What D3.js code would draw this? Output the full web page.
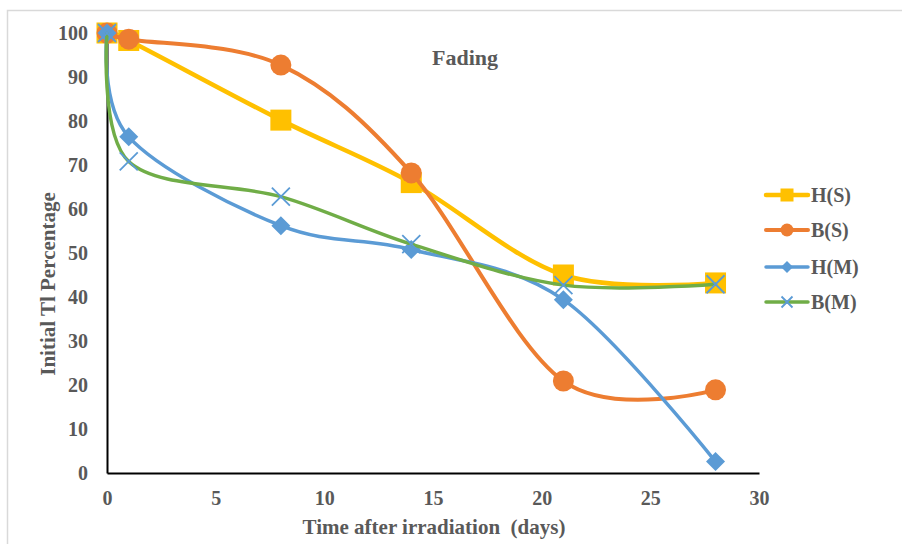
<!DOCTYPE html>
<html>
<head>
<meta charset="utf-8">
<script src="https://cdn.jsdelivr.net/npm/d3@7"></script>
<style>
  html, body { margin: 0; padding: 0; background: #fff; }
  svg { display: block; }
  text { font-family: "Liberation Serif", "Times New Roman", serif; font-weight: bold; fill: #595959; }
</style>
</head>
<body>
<svg id="chart" width="902" height="544"></svg>
<script>
const days = [0, 1, 8, 14, 21, 28];
const seriesNames = ["H(S)", "B(S)", "H(M)", "B(M)"];
const hS = [100, 98.3, 80.2, 66, 45, 43.2];
const bS = [100, 98.6, 92.7, 68.2, 20.9, 18.9];
const hM = [100, 76.4, 56.2, 50.8, 39.4, 2.6];
const bM = [100, 70.8, 62.8, 52, 42.7, 42.9];
const xTicks = [0, 5, 10, 15, 20, 25, 30];
const yTicks = [0, 10, 20, 30, 40, 50, 60, 70, 80, 90, 100];

const colors = ["#FFC000", "#ED7D31", "#5B9BD5", "#70AD47"];
const markerColors = ["#FFC000", "#ED7D31", "#5B9BD5", "#5B9BD5"];
const markerTypes = ["square", "circle", "diamond", "x"];
const lineWidths = [4.5, 4, 3.5, 3.5];
const allValues = [hS, bS, hM, bM];

const svg = d3.select("#chart");

// outer border
svg.append("rect").attr("x", 7.5).attr("y", 10.5).attr("width", 1000).attr("height", 600)
  .attr("fill", "none").attr("stroke", "#d9d9d9").attr("stroke-width", 1.5);

const x = d3.scaleLinear().domain([0, 30]).range([107, 759]);
const y = d3.scaleLinear().domain([0, 100]).range([473, 33]);

// axes
const xAxis = svg.append("g").attr("transform", `translate(0,${y(0)})`)
  .call(d3.axisBottom(x).tickValues(xTicks).tickSize(0).tickPadding(18).tickFormat(d3.format("d")));
xAxis.select(".domain").attr("stroke", "#000").attr("stroke-width", 2);
xAxis.selectAll("text").style("font-size", "20px").attr("fill", "#595959");

const yAxis = svg.append("g").attr("transform", `translate(${x(0)},0)`)
  .call(d3.axisLeft(y).tickValues(yTicks).tickSize(0).tickPadding(19).tickFormat(d3.format("d")));
yAxis.select(".domain").attr("stroke", "#000").attr("stroke-width", 2);
yAxis.selectAll("text").style("font-size", "20px").attr("fill", "#595959");

// titles
svg.append("text").attr("x", 465).attr("y", 65).attr("text-anchor", "middle")
  .style("font-size", "22px").text("Fading");
svg.append("text").attr("x", 434).attr("y", 534).attr("text-anchor", "middle")
  .style("font-size", "21px").attr("xml:space", "preserve").text("Time after irradiation  (days)");
svg.append("text").attr("transform", "translate(55,284) rotate(-90)").attr("text-anchor", "middle")
  .style("font-size", "21px").text("Initial Tl Percentage");

const line = d3.line().x(d => x(d[0])).y(d => y(d[1])).curve(d3.curveCardinal.tension(0));

function drawMarker(g, type, cx, cy, size, color) {
  if (type === "square") {
    g.append("rect").attr("x", cx - size / 2).attr("y", cy - size / 2)
      .attr("width", size).attr("height", size).attr("fill", color);
  } else if (type === "circle") {
    g.append("circle").attr("cx", cx).attr("cy", cy).attr("r", size / 2).attr("fill", color);
  } else if (type === "diamond") {
    const h = size / 2;
    g.append("path").attr("d", `M${cx},${cy - h}L${cx + h},${cy}L${cx},${cy + h}L${cx - h},${cy}Z`)
      .attr("fill", color);
  } else if (type === "x") {
    const h = size / 2;
    g.append("path").attr("d", `M${cx - h},${cy - h}L${cx + h},${cy + h}M${cx - h},${cy + h}L${cx + h},${cy - h}`)
      .attr("stroke", color).attr("stroke-width", 1.8).attr("fill", "none");
  }
}

const markerSizes = [21, 21, 19, 18];

allValues.forEach((vals, i) => {
  const pts = days.map((d, j) => [d, vals[j]]);
  const g = svg.append("g");
  g.append("path").attr("d", line(pts)).attr("fill", "none")
    .attr("stroke", colors[i]).attr("stroke-width", lineWidths[i]).attr("stroke-linecap", "round");
  pts.forEach(p => drawMarker(g, markerTypes[i], x(p[0]), y(p[1]), markerSizes[i], markerColors[i]));
});

// legend
const legendY = [195, 230, 267, 302];
const legendMarkerSizes = [13, 13, 12, 11];
seriesNames.forEach((name, i) => {
  const g = svg.append("g");
  g.append("line").attr("x1", 766).attr("x2", 808).attr("y1", legendY[i]).attr("y2", legendY[i])
    .attr("stroke", colors[i]).attr("stroke-width", lineWidths[i]).attr("stroke-linecap", "round");
  drawMarker(g, markerTypes[i], 787, legendY[i], legendMarkerSizes[i], markerColors[i]);
  g.append("text").attr("x", 811).attr("y", legendY[i] + 7).style("font-size", "20px").text(name);
});
</script>
</body>
</html>
